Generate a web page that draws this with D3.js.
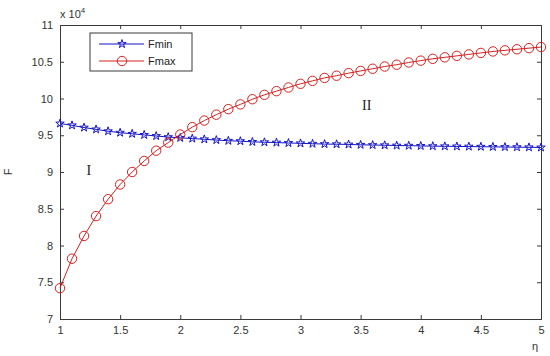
<!DOCTYPE html>
<html>
<head>
<meta charset="utf-8">
<script src="https://cdn.jsdelivr.net/npm/d3@7"></script>
<style>
  body { margin: 0; background: #fff; }
  text { font-family: "Liberation Sans", Arial, sans-serif; }
</style>
</head>
<body>
<div id="chart"></div>
<script>
// eta values, 1 to 5 in steps of 0.1
const eta = [1.0,1.1,1.2,1.3,1.4,1.5,1.6,1.7,1.8,1.9,2.0,2.1,2.2,2.3,2.4,2.5,2.6,2.7,2.8,2.9,3.0,
  3.1,3.2,3.3,3.4,3.5,3.6,3.7,3.8,3.9,4.0,4.1,4.2,4.3,4.4,4.5,4.6,4.7,4.8,4.9,5.0];

// values in units of 10^4
const fmin = [9.66,9.635,9.605,9.58,9.555,9.535,9.52,9.505,9.49,9.475,9.465,9.455,9.445,9.435,9.425,
  9.42,9.41,9.405,9.40,9.395,9.39,9.385,9.38,9.378,9.375,9.37,9.367,9.364,9.36,9.358,9.355,9.352,
  9.35,9.348,9.346,9.344,9.342,9.34,9.338,9.336,9.334];
const fmax = [7.42,7.82,8.13,8.40,8.63,8.83,9.00,9.15,9.29,9.40,9.51,9.61,9.70,9.78,9.855,9.92,
  9.99,10.05,10.10,10.15,10.20,10.24,10.28,10.31,10.345,10.375,10.405,10.435,10.46,10.49,10.515,
  10.54,10.56,10.58,10.60,10.62,10.64,10.655,10.67,10.685,10.70];

const xTicks = [1,1.5,2,2.5,3,3.5,4,4.5,5];
const yTicks = [7,7.5,8,8.5,9,9.5,10,10.5,11];

var margin = {top: 25, right: 9, bottom: 37, left: 60},
    width = 550 - margin.left - margin.right,
    height = 356 - margin.top - margin.bottom;

var svg = d3.select("#chart").append("svg")
    .attr("width", 550)
    .attr("height", 356);

var g = svg.append("g")
    .attr("transform", "translate(" + margin.left + "," + margin.top + ")");

var x = d3.scaleLinear().domain([1, 5]).range([0, width]);
var y = d3.scaleLinear().domain([7, 11]).range([height, 0]);

var axisColor = "#3a3a3a";

// box + ticks (MATLAB style, ticks inside on all sides)
function styleAxis(sel) {
  sel.selectAll("path").attr("stroke", axisColor);
  sel.selectAll("line").attr("stroke", axisColor);
  sel.selectAll("text").attr("fill", "#333").style("font-size", "11px");
}

g.append("g")
    .attr("transform", "translate(0," + height + ")")
    .call(d3.axisBottom(x).tickValues(xTicks).tickSize(-4).tickPadding(7).tickFormat(d3.format("")))
    .call(styleAxis);
g.append("g")
    .call(d3.axisLeft(y).tickValues(yTicks).tickSize(-4).tickPadding(7).tickFormat(d3.format("")))
    .call(styleAxis);
g.append("g")
    .call(d3.axisTop(x).tickValues(xTicks).tickSize(-4).tickFormat(""))
    .call(styleAxis);
g.append("g")
    .attr("transform", "translate(" + width + ",0)")
    .call(d3.axisRight(y).tickValues(yTicks).tickSize(-4).tickFormat(""))
    .call(styleAxis);

var line = d3.line().x(d => x(d[0])).y(d => y(d[1]));
var minData = eta.map((e, i) => [e, fmin[i]]);
var maxData = eta.map((e, i) => [e, fmax[i]]);

var blue = "#1414c8", red = "#d42020";

var star = d3.symbol().type(d3.symbolStar).size(22);

g.append("path").datum(minData).attr("d", line)
    .attr("fill", "none").attr("stroke", blue).attr("stroke-width", 1);
g.selectAll("path.star").data(minData).enter().append("path")
    .attr("class", "star")
    .attr("d", star)
    .attr("transform", d => "translate(" + x(d[0]) + "," + y(d[1]) + ")")
    .attr("fill", "none")
    .attr("stroke", blue)
    .attr("stroke-width", 1);

g.append("path").datum(maxData).attr("d", line)
    .attr("fill", "none").attr("stroke", red).attr("stroke-width", 1);
g.selectAll("circle.fmax").data(maxData).enter().append("circle")
    .attr("class", "fmax")
    .attr("cx", d => x(d[0]))
    .attr("cy", d => y(d[1]))
    .attr("r", 4.7)
    .attr("fill", "none")
    .attr("stroke", red)
    .attr("stroke-width", 1);

// region labels
g.append("text").attr("x", x(1.24)).attr("y", y(8.96))
    .attr("text-anchor", "middle")
    .style("font-family", "'Liberation Serif', 'Times New Roman', serif")
    .style("font-size", "14px").attr("fill", "#222").text("I");
g.append("text").attr("x", x(3.55)).attr("y", y(9.84))
    .attr("text-anchor", "middle")
    .style("font-family", "'Liberation Serif', 'Times New Roman', serif")
    .style("font-size", "14px").attr("fill", "#222").text("II");

// legend
var legend = g.append("g").attr("transform", "translate(30,8)");
legend.append("rect").attr("width", 102).attr("height", 38)
    .attr("fill", "#fff").attr("stroke", axisColor).attr("stroke-width", 1);
legend.append("line").attr("x1", 9).attr("x2", 54).attr("y1", 11).attr("y2", 11)
    .attr("stroke", blue);
legend.append("path").attr("d", star)
    .attr("transform", "translate(32,11)")
    .attr("fill", "none").attr("stroke", blue);
legend.append("text").attr("x", 58).attr("y", 15)
    .style("font-size", "11px").attr("fill", "#222").text("Fmin");
legend.append("line").attr("x1", 9).attr("x2", 54).attr("y1", 28).attr("y2", 28)
    .attr("stroke", red);
legend.append("circle").attr("cx", 32).attr("cy", 28).attr("r", 4.7)
    .attr("fill", "none").attr("stroke", red);
legend.append("text").attr("x", 58).attr("y", 32)
    .style("font-size", "11px").attr("fill", "#222").text("Fmax");

// exponent label
var expo = svg.append("text").attr("x", margin.left).attr("y", 18)
    .style("font-size", "11px").attr("fill", "#333");
expo.append("tspan").text("x 10");
expo.append("tspan").attr("dy", -5).style("font-size", "8px").text("4");

// axis labels
svg.append("text")
    .attr("transform", "translate(12,172) rotate(-90)")
    .attr("text-anchor", "middle")
    .style("font-size", "11px").attr("fill", "#333").text("F");
svg.append("text").attr("x", 535).attr("y", 350)
    .attr("text-anchor", "middle")
    .style("font-size", "11px").attr("fill", "#333").text("η");
</script>
</body>
</html>
